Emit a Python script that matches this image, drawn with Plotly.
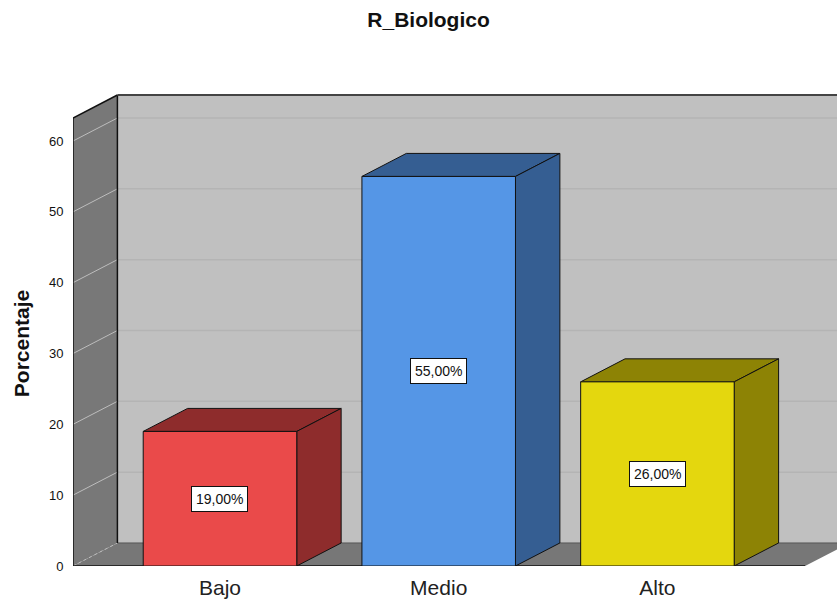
import plotly.graph_objects as go

# Chart data
categories = ["Bajo", "Medio", "Alto"]
percentages = [19.0, 55.0, 26.0]
y_ticks = [0, 10, 20, 30, 40, 50, 60]

# Styling
front_colors = ["#EA4A4A", "#5596E6", "#E4D70E"]
shade_colors = ["#8E2C2C", "#355E92", "#8D8305"]
FONT = "Liberation Sans, Arial, sans-serif"

# Pseudo-3D frame geometry (data units)
BAR_W = 0.702
DX = 0.203      # depth shift along x
DY = 3.25       # depth shift along y
X0 = -0.672     # front edge of the left wall
X1 = 2.821      # right end of the visible range
XF = 2.675      # right end of the floor's front edge
WALL_TOP = 63.25
Y1 = 66.64

positions = list(range(len(categories)))


def poly(points):
    return "M " + " L ".join(f"{x},{y}" for x, y in points) + " Z"


shapes = []


def add_path(points, fill, line_color=None, width=1):
    shapes.append(dict(
        type="path", xref="x", yref="y", path=poly(points), fillcolor=fill,
        line=dict(color=line_color or "rgba(0,0,0,0)", width=width if line_color else 0),
        layer="below"))


def add_line(xa, ya, xb, yb, color, width=1, dash="solid"):
    shapes.append(dict(
        type="line", xref="x", yref="y", x0=xa, y0=ya, x1=xb, y1=yb,
        line=dict(color=color, width=width, dash=dash), layer="below"))


# back wall
add_path([(X0 + DX, DY), (X1 + 1, DY), (X1 + 1, WALL_TOP + DY), (X0 + DX, WALL_TOP + DY)], "#C0C0C0")
for v in y_ticks[1:]:
    add_line(X0 + DX, v + DY, X1 + 1, v + DY, "#B4B4B4", 1.5)

# left wall
add_path([(X0, 0), (X0, WALL_TOP), (X0 + DX, WALL_TOP + DY), (X0 + DX, DY)], "#787878")
for v in y_ticks[1:]:
    add_line(X0, v, X0 + DX, v + DY, "#BDBDBD", 1)

# floor
add_path([(X0, 0), (XF, 0), (XF + DX, DY), (X0 + DX, DY)], "#777777")
add_line(X0, 0, X0 + DX, DY, "#BDBDBD", 1, "dot")
add_line(X0 + DX, DY, X1 + 1, DY, "#555555", 1)

# frame edges
add_line(X0, 0, X0, WALL_TOP, "#111111", 1.5)
add_line(X0, WALL_TOP, X0 + DX, WALL_TOP + DY, "#111111", 1.5)
add_line(X0 + DX, DY, X0 + DX, WALL_TOP + DY, "#111111", 1.5)
add_line(X0 + DX, WALL_TOP + DY, X1 + 1, WALL_TOP + DY, "#444444", 2)
add_line(X0, 0, XF, 0, "#111111", 1.5)

# bar top and side faces
for x, v, shade in zip(positions, percentages, shade_colors):
    left, right = x - BAR_W / 2, x + BAR_W / 2
    add_path([(left, v), (right, v), (right + DX, v + DY), (left + DX, v + DY)], shade, "#111111", 1)
    add_path([(right, 0), (right, v), (right + DX, v + DY), (right + DX, DY)], shade, "#111111", 1)

fig = go.Figure(go.Bar(
    x=positions, y=percentages, width=BAR_W,
    marker=dict(color=front_colors, line=dict(color="#111111", width=1)),
    hoverinfo="skip",
))

# value labels in the middle of each bar
annotations = []
for x, v in zip(positions, percentages):
    annotations.append(dict(
        x=x, y=v / 2, xref="x", yref="y", showarrow=False,
        text=f"{v:.2f}%".replace(".", ","),
        font=dict(family=FONT, size=14, color="#111111"),
        bgcolor="white", bordercolor="#111111", borderwidth=1, borderpad=4,
    ))

annotations.append(dict(
    x=0, y=0.47, xref="paper", yref="paper", xshift=-52, showarrow=False,
    text="Porcentaje", textangle=-90, xanchor="center", yanchor="middle",
    font=dict(family=FONT, size=21, color="#111111", weight="bold"),
))

fig.update_layout(
    width=837, height=603, autosize=False,
    margin=dict(l=73, r=0, t=94, b=37),
    paper_bgcolor="white", plot_bgcolor="white",
    showlegend=False,
    title=dict(
        text="R_Biologico", x=0.512, xref="container", xanchor="center",
        y=1 - 20 / 603, yref="container", yanchor="middle",
        font=dict(family=FONT, size=21, color="#111111", weight="bold"),
    ),
    xaxis=dict(
        range=[X0, X1], tickvals=positions, ticktext=categories,
        showgrid=False, zeroline=False, showline=False, automargin=False,
        ticks="outside", ticklen=3, tickcolor="rgba(0,0,0,0)",
        tickfont=dict(family=FONT, size=21, color="#222222"),
        fixedrange=True,
    ),
    yaxis=dict(
        range=[0, Y1], tickvals=y_ticks, automargin=False,
        showgrid=False, zeroline=False, showline=False,
        ticks="outside", ticklen=6, tickcolor="rgba(0,0,0,0)",
        tickfont=dict(family=FONT, size=13, color="#111111"),
        fixedrange=True,
    ),
    shapes=shapes,
    annotations=annotations,
)

fig.write_html("out.html")
